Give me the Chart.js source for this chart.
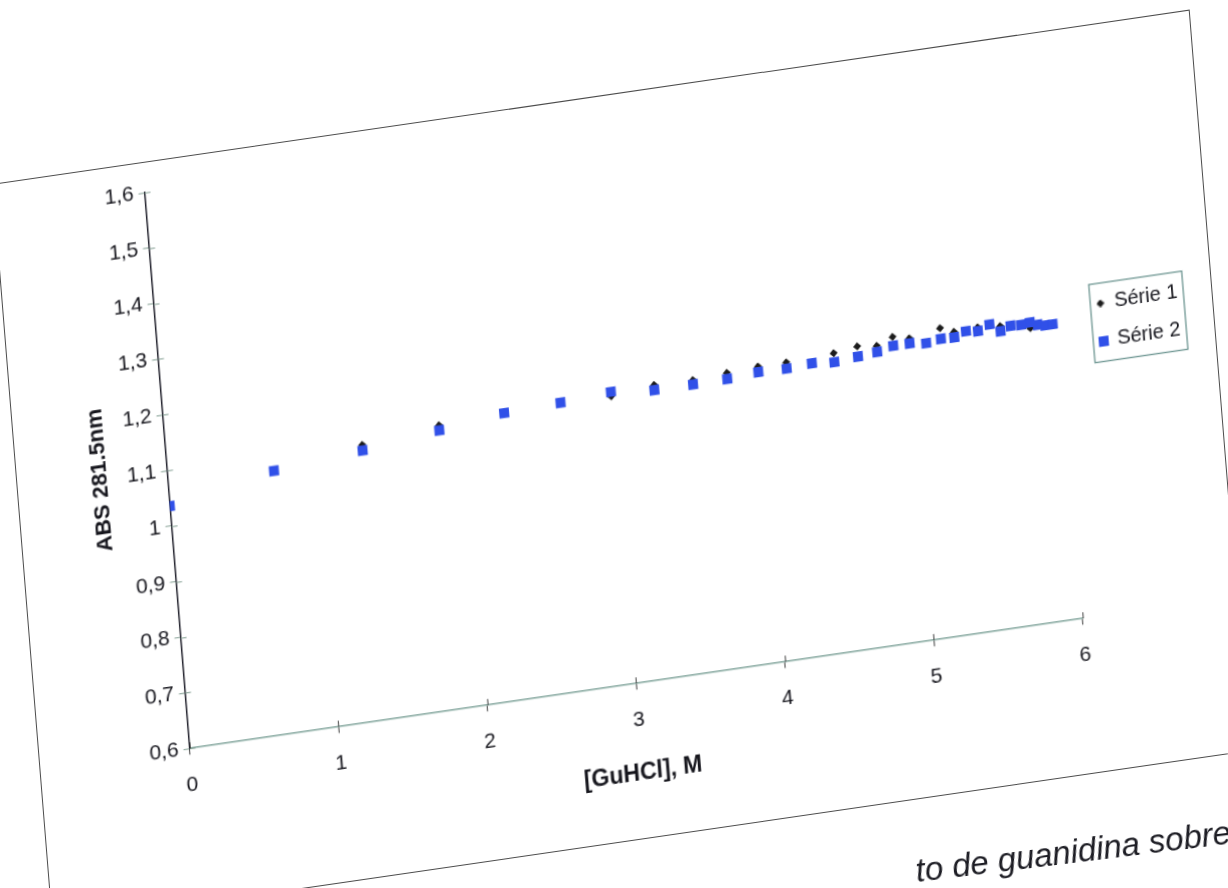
<!DOCTYPE html>
<html>
<head>
<meta charset="utf-8">
<title>ABS 281.5nm x [GuHCl]</title>
<script src="https://cdn.jsdelivr.net/npm/chart.js@4.4.1/dist/chart.umd.min.js"></script>
<style>
    html, body { margin: 0; padding: 0; background: #fff; }
    body { width: 1228px; height: 888px; overflow: hidden; position: relative; }
    #frame {
        position: absolute; left: 0; top: 0;
        width: 1203px; height: 731px;
        box-sizing: border-box;
        border: 1.5px solid #4d4d4d;
        background: #fff;
        transform-origin: 0 0;
    }
    #frame .wrap { position: absolute; left: 0; top: 0; right: 0; bottom: 0; }
    #caption {
        position: absolute; left: 918px; top: 852px;
        font: italic 33px "Liberation Sans", Arial, sans-serif;
        color: #1d1d24;
        white-space: nowrap;
        transform: rotate(-7deg);
        transform-origin: 0 100%;
    }
</style>
</head>
<body>
<div id="frame"><div class="wrap"><canvas id="chart"></canvas></div></div>
<div id="caption">to de guanidina sobre</div>
<script>
// [GuHCl] in M
const concentrations = [0.00, 0.71, 1.31, 1.83, 2.27, 2.65, 2.99, 3.28, 3.54, 3.77, 3.98,
    4.17, 4.34, 4.49, 4.65, 4.78, 4.89, 5.00, 5.11, 5.21, 5.30, 5.38, 5.46, 5.54, 5.61,
    5.68, 5.75, 5.81, 5.86, 5.91, 5.96];

const serie1 = [1.036, 1.072, 1.095, 1.110, 1.115, 1.119, 1.117, 1.126, 1.125, 1.129, 1.132,
    1.132, 1.124, 1.136, 1.142, 1.138, 1.150, 1.143, 1.130, 1.153, 1.143, 1.141, 1.145, 1.147,
    1.141, 1.139, 1.138, 1.130, 1.134, 1.131, 1.131];

const serie2 = [1.036, 1.072, 1.085, 1.101, 1.115, 1.119, 1.125, 1.117, 1.117, 1.118, 1.122,
    1.121, 1.124, 1.120, 1.124, 1.127, 1.134, 1.134, 1.130, 1.134, 1.133, 1.141, 1.138, 1.147,
    1.132, 1.139, 1.138, 1.140, 1.134, 1.131, 1.131];

const xTicks = [0, 1, 2, 3, 4, 5, 6];
const yTicks = [0.6, 0.7, 0.8, 0.9, 1.0, 1.1, 1.2, 1.3, 1.4, 1.5, 1.6];

const textColor = '#15151c';
const blue = '#3050e8';
const black = '#1b1b1b';

Chart.defaults.font.family = '"Liberation Sans", Arial, sans-serif';

function toPoints(values) {
    return concentrations.map((c, i) => ({x: c, y: values[i]}));
}

// 1,6 / 1,5 ... 1 ... 0,6
function decimalComma(value) {
    return String(Math.round(value * 10) / 10).replace('.', ',');
}

// small glyphs for the legend, as in the original (square bigger than the diamond)
function glyph(kind, size, color) {
    const c = document.createElement('canvas');
    c.width = size;
    c.height = size;
    const g = c.getContext('2d');
    g.fillStyle = color;
    if (kind === 'square') {
        g.fillRect(0, 0, size, size);
    } else {
        g.beginPath();
        g.moveTo(size / 2, 0);
        g.lineTo(size, size / 2);
        g.lineTo(size / 2, size);
        g.lineTo(0, size / 2);
        g.closePath();
        g.fill();
    }
    return c;
}
const legendGlyphs = [glyph('diamond', 8, black), glyph('square', 10, blue)];

// excel style "cross" tick marks: the inner half of each tick
const crossTicks = {
    id: 'crossTicks',
    beforeDatasetsDraw(chart) {
        const {ctx, scales: {x, y}} = chart;
        ctx.save();
        ctx.lineWidth = 1;
        ctx.strokeStyle = y.options.grid.color;
        for (const t of y.ticks) {
            const py = Math.round(y.getPixelForValue(t.value)) + 0.5;
            ctx.beginPath();
            ctx.moveTo(y.right, py);
            ctx.lineTo(y.right + 6, py);
            ctx.stroke();
        }
        ctx.strokeStyle = x.options.grid.color;
        for (const t of x.ticks) {
            const px = Math.round(x.getPixelForValue(t.value)) + 0.5;
            ctx.beginPath();
            ctx.moveTo(px, x.top);
            ctx.lineTo(px, x.top - 6);
            ctx.stroke();
        }
        ctx.restore();
    }
};

// keep the legend centred on the plot (a bit above middle), not on the whole canvas
const legendPlace = {
    id: 'legendPlace',
    afterLayout(chart) {
        const legend = chart.legend;
        const area = chart.chartArea;
        if (!legend) {
            return;
        }
        legend.top = area.top;
        legend.bottom = area.bottom - 24;
        legend.height = legend.bottom - legend.top;
    }
};

// box around the legend entries
const legendFrame = {
    id: 'legendFrame',
    afterDraw(chart) {
        const boxes = chart.legend && chart.legend.legendHitBoxes;
        if (!boxes || !boxes.length) {
            return;
        }
        const left = Math.min(...boxes.map(b => b.left)) - 6;
        const right = Math.max(...boxes.map(b => b.left + b.width)) + 6;
        const top = Math.min(...boxes.map(b => b.top)) - 10;
        const bottom = Math.max(...boxes.map(b => b.top + b.height)) + 10;
        const ctx = chart.ctx;
        ctx.save();
        ctx.strokeStyle = '#5e8a86';
        ctx.lineWidth = 1.2;
        ctx.strokeRect(left, top, right - left, bottom - top);
        ctx.restore();
    }
};

const chart = new Chart(document.getElementById('chart'), {
    type: 'scatter',
    data: {
        datasets: [
            {
                label: 'Série 1',
                data: toPoints(serie1),
                xAxisID: 'x',
                yAxisID: 'y',
                pointStyle: 'rectRot',
                pointRadius: 4,
                pointBorderWidth: 0,
                pointBackgroundColor: black,
                backgroundColor: black,
                order: 1
            },
            {
                label: 'Série 2',
                data: toPoints(serie2),
                xAxisID: 'x',
                yAxisID: 'y',
                pointStyle: 'rect',
                pointRadius: 7,
                pointBorderWidth: 0,
                pointBackgroundColor: blue,
                backgroundColor: blue,
                order: 0
            }
        ]
    },
    options: {
        responsive: true,
        maintainAspectRatio: false,
        animation: false,
        layout: {
            padding: {left: 66, right: 24, top: 29, bottom: 46}
        },
        scales: {
            x: {
                type: 'linear',
                min: 0,
                max: 6,
                afterBuildTicks: (scale) => {
                    scale.ticks = xTicks.map(v => ({value: v}));
                },
                grid: {drawOnChartArea: false, tickLength: 6, color: '#3d3d3d'},
                border: {display: true, color: '#7fa39a', width: 1.5},
                ticks: {padding: 17, color: textColor, font: {size: 21}, maxRotation: 0},
                title: {
                    display: true,
                    text: '[GuHCl], M',
                    color: textColor,
                    font: {size: 23, weight: 'bold'},
                    padding: {top: 9, bottom: 4}
                }
            },
            y: {
                type: 'linear',
                min: 0.6,
                max: 1.6,
                afterBuildTicks: (scale) => {
                    scale.ticks = yTicks.map(v => ({value: v}));
                },
                grid: {drawOnChartArea: false, tickLength: 6, color: '#86a095'},
                border: {display: true, color: '#20202c', width: 1.5},
                ticks: {padding: 5, color: textColor, font: {size: 21}, callback: decimalComma},
                title: {
                    display: true,
                    text: 'ABS 281.5nm',
                    color: textColor,
                    font: {size: 22, weight: 'bold'},
                    padding: {top: 4, bottom: 8}
                }
            },
            // empty spacer between plot and legend
            gap: {
                type: 'linear',
                position: 'right',
                display: true,
                grid: {display: false},
                border: {display: false},
                ticks: {display: false},
                afterFit: (scale) => {
                    scale.width = 22;
                }
            }
        },
        plugins: {
            legend: {
                position: 'right',
                align: 'center',
                labels: {
                    usePointStyle: true,
                    pointStyleWidth: 8,
                    boxHeight: 8,
                    padding: 17,
                    color: textColor,
                    font: {size: 20},
                    sort: (a, b) => a.datasetIndex - b.datasetIndex,
                    generateLabels(chart) {
                        const items = Chart.defaults.plugins.legend.labels.generateLabels(chart);
                        items.forEach(item => {
                            item.pointStyle = legendGlyphs[item.datasetIndex];
                        });
                        return items;
                    }
                }
            },
            tooltip: {enabled: false}
        }
    },
    plugins: [crossTicks, legendPlace, legendFrame]
});

// the scanned page is tilted: map the plot corners onto where they sit in the scan
function tiltFrame() {
    const area = chart.chartArea;
    const bw = 1.5;
    const x0 = bw + area.left, x1 = bw + area.right;
    const yb = bw + area.bottom, yt = bw + area.top;
    const origin = [190, 749];   // (0 ; 0,6)
    const xEnd = [1083, 619];    // (6 ; 0,6)
    const yEnd = [145, 193];     // (0 ; 1,6)
    const a = (xEnd[0] - origin[0]) / (x1 - x0);
    const b = (xEnd[1] - origin[1]) / (x1 - x0);
    const c = (origin[0] - yEnd[0]) / (yb - yt);
    const d = (origin[1] - yEnd[1]) / (yb - yt);
    const e = origin[0] - a * x0 - c * yb;
    const f = origin[1] - b * x0 - d * yb;
    document.getElementById('frame').style.transform =
        `matrix(${a}, ${b}, ${c}, ${d}, ${e}, ${f})`;
}
tiltFrame();
</script>
</body>
</html>
